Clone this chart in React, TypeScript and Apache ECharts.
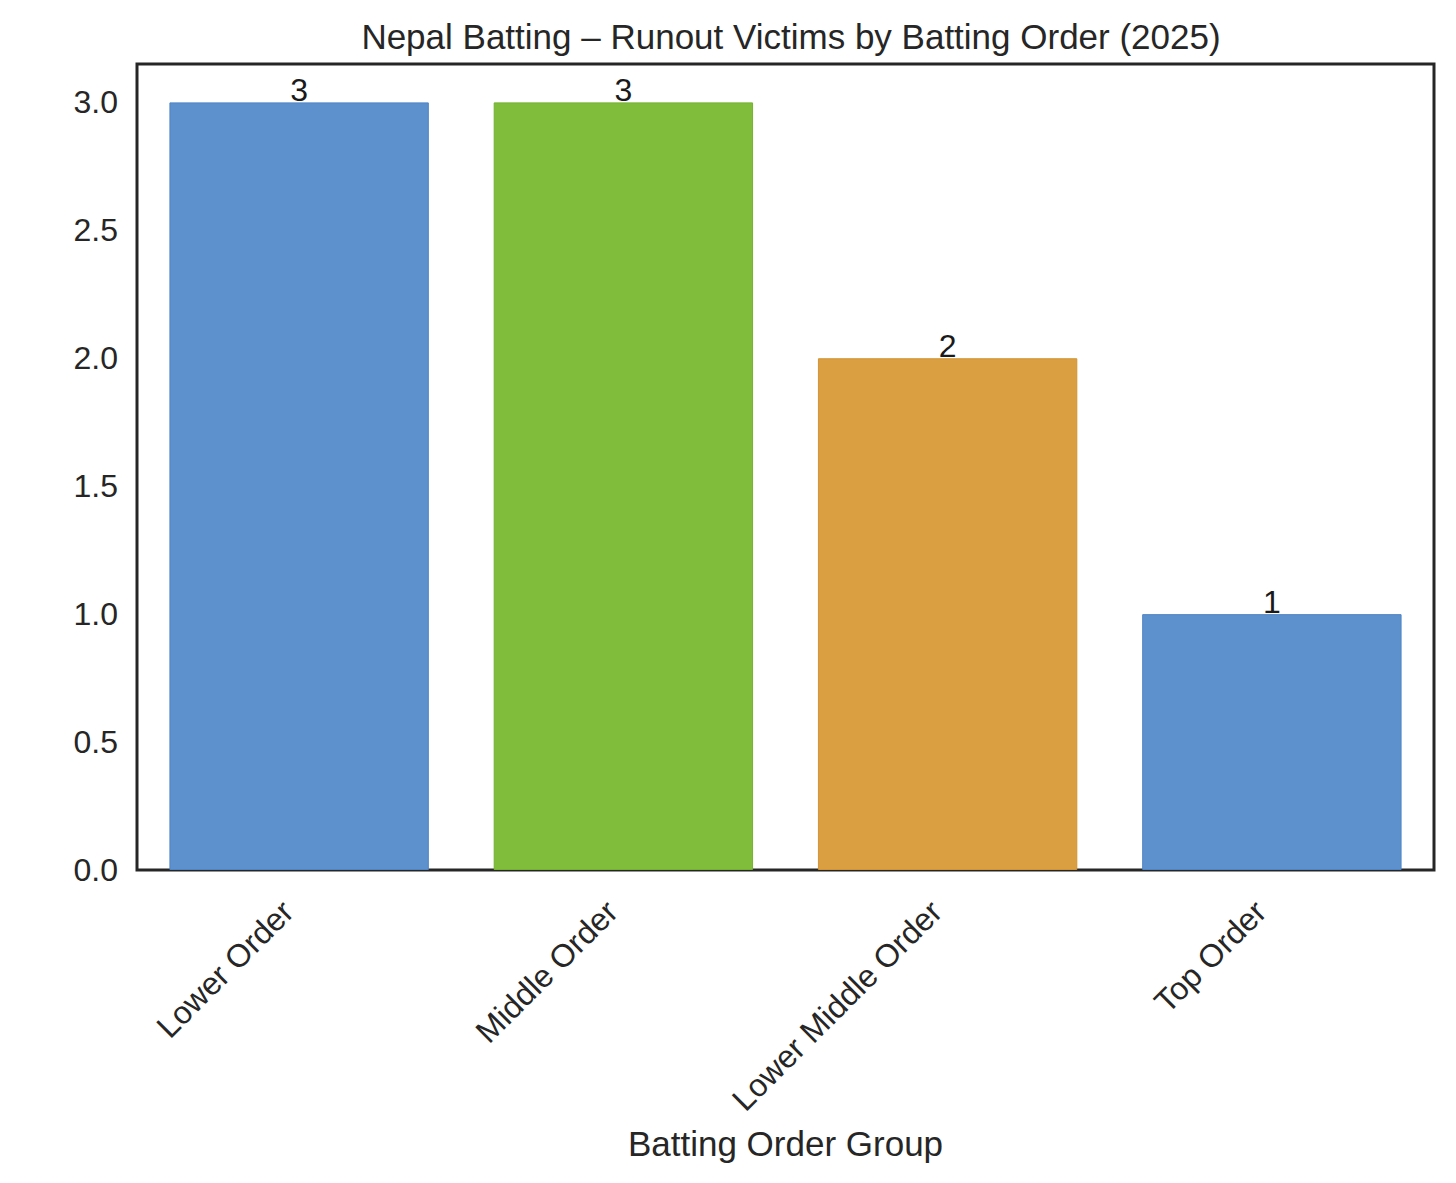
import React, { useEffect, useRef } from "react";
import * as echarts from "echarts";

const categories = ["Lower Order", "Middle Order", "Lower Middle Order", "Top Order"];
const values = [3, 3, 2, 1];
const barColors = ["#5d91cd", "#80bd3a", "#da9f40", "#5d91cd"];
const barEdges = ["#4f84c4", "#74b12f", "#d29335", "#4f84c4"];
const titleText = "Nepal Batting – Runout Victims by Batting Order (2025)";
const xName = "Batting Order Group";

const FONT = "'Liberation Sans', Arial, Helvetica, sans-serif";

export default function App() {
  const ref = useRef<HTMLDivElement>(null);
  useEffect(() => {
    if (!ref.current) return;
    const chart = echarts.init(ref.current, undefined, { renderer: "svg" });
    chart.setOption({
      animation: false,
      backgroundColor: "#ffffff",
      title: {
        text: titleText,
        left: 786,
        top: 14,
        textAlign: "center",
        textStyle: { fontFamily: FONT, fontSize: 35, fontWeight: "normal", color: "#262626" },
      },
      grid: {
        left: 137,
        right: 22,
        top: 64,
        bottom: 313,
        show: true,
        borderColor: "#262626",
        borderWidth: 3,
        backgroundColor: "transparent",
      },
      xAxis: {
        type: "category",
        data: categories,
        boundaryGap: true,
        name: xName,
        nameLocation: "middle",
        nameGap: 256,
        nameTextStyle: { fontFamily: FONT, fontSize: 35, color: "#262626" },
        axisLine: { show: false },
        axisTick: { show: false },
        axisLabel: {
          rotate: 45,
          margin: 25,
          padding: [0, 16, 0, 0],
          fontFamily: FONT,
          fontSize: 32,
          color: "#262626",
          interval: 0,
        },
        splitLine: { show: false },
      },
      yAxis: {
        type: "value",
        min: 0,
        max: 3.15,
        interval: 0.5,
        axisLine: { show: false },
        axisTick: { show: false },
        splitLine: { show: false },
        axisLabel: {
          showMaxLabel: false,
          margin: 19,
          fontFamily: FONT,
          fontSize: 32,
          color: "#262626",
          formatter: (v: number) => v.toFixed(1),
        },
      },
      series: [
        {
          type: "bar",
          barWidth: "80%",
          data: values.map((v, i) => ({
            value: v,
            itemStyle: { color: barColors[i], borderColor: barEdges[i], borderWidth: 1 },
          })),
          label: {
            show: true,
            position: "top",
            distance: -4,
            fontFamily: FONT,
            fontSize: 32,
            color: "#1a1a1a",
            formatter: (p: any) => String(p.value),
          },
        },
      ],
    });
    return () => chart.dispose();
  }, []);
  return (
    <div
      ref={ref}
      style={{ position: "fixed", left: 0, top: 0, width: 1456, height: 1183 }}
    />
  );
}
